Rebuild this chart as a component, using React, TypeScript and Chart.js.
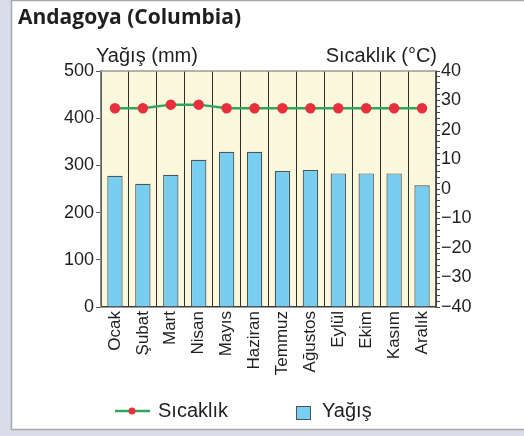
import React, { useEffect, useRef } from "react";
import { Chart, registerables } from "chart.js";

Chart.register(...registerables);

const months = ["Ocak", "Şubat", "Mart", "Nisan", "Mayıs", "Haziran", "Temmuz", "Ağustos", "Eylül", "Ekim", "Kasım", "Aralık"];
const rainfall = [278, 261, 280, 312, 329, 329, 288, 290, 283, 283, 283, 258];
const temperature = [27.4, 27.4, 28.6, 28.6, 27.4, 27.4, 27.4, 27.4, 27.4, 27.4, 27.4, 27.4];
const rainTicks = [0, 100, 200, 300, 400, 500];
const tempRange = [-40, 40];

const titleText = "Andagoya (Columbia)";
const leftTitle = "Yağış (mm)";
const rightTitle = "Sıcaklık (°C)";
const tempLabel = "Sıcaklık";
const rainLabel = "Yağış";

const BAR = "#78cef0";
const BAR_BORDER = "#4a5358";
const LINE = "#2fa65c";
const DOT = "#e8303c";
const FONT = "'Liberation Sans', Arial, sans-serif";

const decor = {
  id: "decor",
  beforeDraw(chart: any) {
    const { ctx, chartArea } = chart;
    ctx.save();
    ctx.fillStyle = "#d9dbe8";
    ctx.fillRect(0, 0, chart.width, chart.height);
    ctx.fillStyle = "#ffffff";
    ctx.fillRect(12, 1, chart.width - 12, 428);
    ctx.strokeStyle = "#a8a9b0";
    ctx.lineWidth = 1.5;
    ctx.beginPath();
    ctx.moveTo(11.5, 0.5);
    ctx.lineTo(chart.width, 0.5);
    ctx.moveTo(11.5, 0);
    ctx.lineTo(11.5, 429.5);
    ctx.lineTo(chart.width, 429.5);
    ctx.stroke();
    ctx.fillStyle = "#faf8dc";
    ctx.fillRect(chartArea.left, chartArea.top, chartArea.right - chartArea.left, chartArea.bottom - chartArea.top);
    ctx.restore();
  },
  afterDraw(chart: any) {
    const { ctx, chartArea } = chart;
    ctx.save();
    ctx.fillStyle = "#1f1f1f";
    ctx.textBaseline = "alphabetic";
    ctx.font = "bold 21px 'Open Sans', sans-serif";
    ctx.fillText(titleText, 18, 24);
    ctx.font = `20px ${FONT}`;
    ctx.textAlign = "left";
    ctx.fillText(leftTitle, 96, 62);
    ctx.textAlign = "right";
    ctx.fillText(rightTitle, chartArea.right + 1, 62);
    // top border of plot
    ctx.strokeStyle = "#9a9a94";
    ctx.lineWidth = 1.5;
    ctx.beginPath();
    ctx.moveTo(chartArea.left, chartArea.top);
    ctx.lineTo(chartArea.right, chartArea.top);
    ctx.stroke();
    // legend
    const ly = 411;
    ctx.strokeStyle = LINE;
    ctx.lineWidth = 2.5;
    ctx.beginPath();
    ctx.moveTo(115, ly);
    ctx.lineTo(150, ly);
    ctx.stroke();
    ctx.fillStyle = DOT;
    ctx.beginPath();
    ctx.arc(132, ly, 3.5, 0, Math.PI * 2);
    ctx.fill();
    ctx.fillStyle = "#1f1f1f";
    ctx.textAlign = "left";
    ctx.textBaseline = "middle";
    ctx.font = `20px ${FONT}`;
    ctx.fillText(tempLabel, 158, ly);
    ctx.fillStyle = BAR;
    ctx.fillRect(296, 406, 14.5, 13);
    ctx.strokeStyle = BAR_BORDER;
    ctx.lineWidth = 1;
    ctx.strokeRect(296.5, 406.5, 14, 13);
    ctx.fillStyle = "#1f1f1f";
    ctx.fillText(rainLabel, 322, ly);
    ctx.restore();
  },
};

export default function App() {
  const ref = useRef<HTMLCanvasElement>(null);
  useEffect(() => {
    document.body.style.margin = "0";
    const chart = new Chart(ref.current!, {
      type: "bar",
      data: {
        labels: months,
        datasets: [
          {
            type: "line",
            label: tempLabel,
            data: temperature,
            yAxisID: "y1",
            borderColor: LINE,
            borderWidth: 2.5,
            pointBackgroundColor: DOT,
            pointBorderColor: DOT,
            pointRadius: 4,
            tension: 0,
            order: 0,
          } as any,
          {
            type: "bar",
            label: rainLabel,
            data: rainfall,
            yAxisID: "y",
            backgroundColor: BAR,
            borderColor: BAR_BORDER,
            borderWidth: 1.2,
            barPercentage: 0.55,
            categoryPercentage: 1,
            order: 1,
          },
        ],
      },
      options: {
        responsive: false,
        animation: false,
        layout: { padding: { top: 71, left: 0, right: 0, bottom: 0 } },
        plugins: { legend: { display: false }, tooltip: { enabled: false } },
        scales: {
          x: {
            grid: { offset: true, color: "#2e2e2e", lineWidth: 1, drawTicks: false },
            border: { color: "#3a3a3a", width: 1.5 },
            ticks: {
              color: "#1f1f1f",
              font: { family: FONT, size: 17 },
              minRotation: 90,
              maxRotation: 90,
              padding: 4,
              autoSkip: false,
            },
            afterFit(scale: any) {
              scale.height = 129;
            },
          },
          y: {
            position: "left",
            min: rainTicks[0],
            max: rainTicks[rainTicks.length - 1],
            grid: { drawOnChartArea: false, tickLength: 5, color: "#555" },
            border: { color: "#8a8a86", width: 1.5 },
            ticks: {
              stepSize: 100,
              color: "#1f1f1f",
              font: { family: FONT, size: 18 },
              padding: 2,
            },
            afterFit(scale: any) {
              scale.width = 101;
            },
          },
          y1: {
            position: "right",
            min: tempRange[0],
            max: tempRange[1],
            grid: { drawOnChartArea: false, tickLength: 4, color: "#444" },
            border: { color: "#555", width: 1.5 },
            ticks: {
              stepSize: 2,
              autoSkip: false,
              color: "#1f1f1f",
              font: { family: FONT, size: 18 },
              padding: 1,
              callback: (v: any) => {
                const n = Number(v);
                if (Math.round(n) % 10 !== 0) return "";
                return n < 0 ? "\u2212" + Math.abs(n) : String(n);
              },
            },
            afterFit(scale: any) {
              scale.width = 88;
            },
          },
        },
      },
      plugins: [decor],
    });
    return () => chart.destroy();
  }, []);
  return <canvas ref={ref} width={524} height={436} style={{ display: "block", width: 524, height: 436 }} />;
}
